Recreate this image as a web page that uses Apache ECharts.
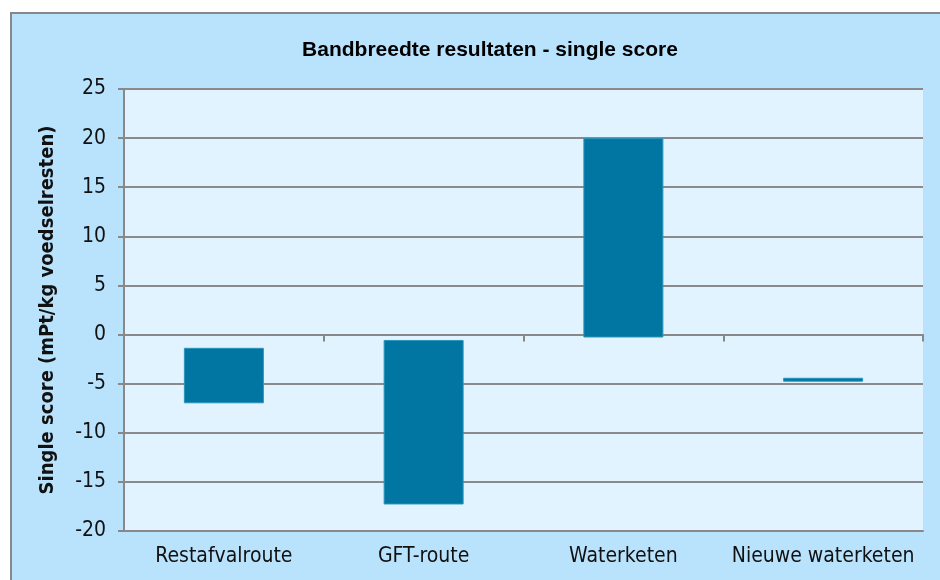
<!DOCTYPE html>
<html>
<head>
<meta charset="utf-8">
<script src="https://cdn.jsdelivr.net/npm/echarts@6/dist/echarts.min.js"></script>
<style>
  html, body { margin: 0; padding: 0; background: #fff; }
  #chart { width: 940px; height: 580px; }
</style>
</head>
<body>
<div id="chart"></div>
<script>
const categories = ['Restafvalroute', 'GFT-route', 'Waterketen', 'Nieuwe waterketen'];
// band per route: upper and lower single score
const upperValues = [-1.35, -0.55, 20, -4.4];
const lowerValues = [-7.0, -17.3, -0.3, -4.8];
const yTicks = { min: -20, max: 25, interval: 5 };

const chart = echarts.init(document.getElementById('chart'));

const spans = lowerValues.map((lo, i) => +(lo - upperValues[i]).toFixed(2));

const labelFont = 'DejaVu Sans Condensed, DejaVu Sans, sans-serif';

const option = {
    animation: false,
    graphic: [{
        type: 'rect',
        z: -10,
        shape: { x: 11, y: 13, width: 940, height: 580 },
        style: { fill: '#B9E3FD', stroke: '#888', lineWidth: 2 }
    }],
    title: {
        text: 'Bandbreedte resultaten - single score',
        left: 485,
        top: 35,
        textAlign: 'center',
        textStyle: {
            fontFamily: 'Liberation Sans, Arial, sans-serif',
            fontWeight: 'bold',
            fontSize: 21,
            color: '#000'
        }
    },
    grid: {
        left: 124,
        right: 17,
        top: 89,
        bottom: 49,
        show: true,
        backgroundColor: '#E1F3FE',
        borderWidth: 0
    },
    xAxis: [{
        type: 'category',
        data: categories,
        position: 'bottom',
        axisLine: { onZero: false, lineStyle: { color: '#888', width: 2 } },
        axisTick: { show: false },
        axisLabel: { interval: 0, margin: 15, fontFamily: labelFont, fontSize: 21, color: '#111' }
    }, {
        type: 'category',
        data: categories,
        position: 'top',
        axisLine: { onZero: true, lineStyle: { color: '#888', width: 2 } },
        axisTick: { show: true, inside: true, length: 7, lineStyle: { color: '#888', width: 2 } },
        axisLabel: { show: false }
    }],
    yAxis: {
        type: 'value',
        min: yTicks.min,
        max: yTicks.max,
        interval: yTicks.interval,
        name: 'Single score (mPt/kg voedselresten)',
        nameLocation: 'middle',
        nameGap: 66,
        nameTextStyle: { fontFamily: labelFont, fontWeight: 'bold', fontSize: 20, color: '#111' },
        axisLine: { show: true, lineStyle: { color: '#888', width: 2 } },
        axisTick: { show: true, length: 6, lineStyle: { color: '#888', width: 2 } },
        axisLabel: { margin: 18, fontFamily: labelFont, fontSize: 21, color: '#111' },
        splitLine: { lineStyle: { color: '#8A8A8A', width: 2 } }
    },
    series: [{
        type: 'bar',
        stack: 'band',
        stackStrategy: 'all',
        data: upperValues,
        barWidth: 80,
        itemStyle: { color: 'rgba(0,0,0,0)' },
        silent: true
    }, {
        type: 'bar',
        stack: 'band',
        stackStrategy: 'all',
        data: spans,
        barWidth: 80,
        itemStyle: { color: '#0176A2', borderColor: '#2C95BB', borderWidth: 1 }
    }]
};

chart.setOption(option);
</script>
</body>
</html>
